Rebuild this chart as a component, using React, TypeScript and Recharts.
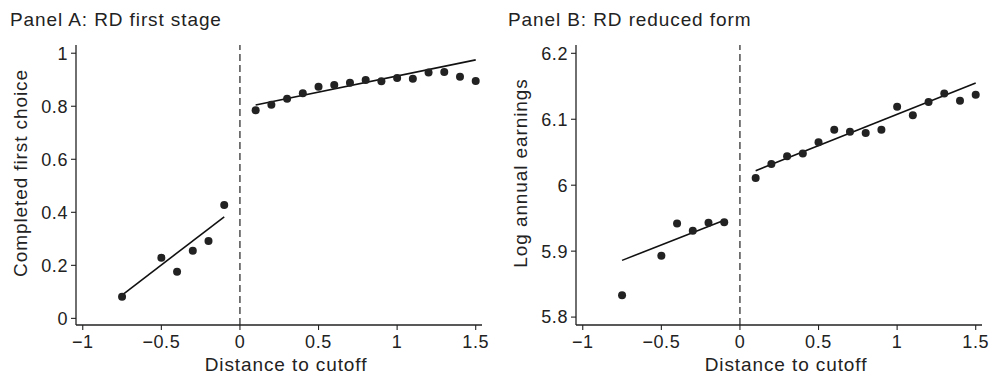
import React from "react";
import {
  ComposedChart,
  Scatter,
  Line,
  XAxis,
  YAxis,
  ReferenceLine,
  Label,
} from "recharts";

const xTicks = [-1, -0.5, 0, 0.5, 1, 1.5];
const binsLeft = [-0.75, -0.5, -0.4, -0.3, -0.2, -0.1];
const binsRight = [0.1, 0.2, 0.3, 0.4, 0.5, 0.6, 0.7, 0.8, 0.9, 1, 1.1, 1.2, 1.3, 1.4, 1.5];
const fitLeftX = [-0.75, -0.1];
const fitRightX = [0.1, 1.5];

// Panel A: first stage
const firstStageLeft = [0.082, 0.229, 0.176, 0.255, 0.292, 0.428];
const firstStageRight = [
  0.785, 0.806, 0.828, 0.849, 0.874, 0.88, 0.889, 0.899, 0.894, 0.907, 0.904, 0.927, 0.929, 0.911,
  0.895,
];
const firstStageFitLeft = [0.088, 0.383];
const firstStageFitRight = [0.805, 0.975];
const yTicksA = [0, 0.2, 0.4, 0.6, 0.8, 1];

// Panel B: reduced form
const reducedLeft = [5.833, 5.893, 5.942, 5.931, 5.943, 5.944];
const reducedRight = [
  6.011, 6.032, 6.044, 6.048, 6.065, 6.084, 6.081, 6.079, 6.084, 6.119, 6.106, 6.126, 6.139, 6.128,
  6.137,
];
const reducedFitLeft = [5.886, 5.947];
const reducedFitRight = [6.022, 6.155];
const yTicksB = [5.8, 5.9, 6, 6.1, 6.2];

const INK = "#222";
const FONT = "'Liberation Sans', Arial, Helvetica, sans-serif";

const zip = (xs: number[], ys: number[]) => xs.map((x, i) => ({ x, y: ys[i] }));
const fmt = (v: number) => String(v).replace("-", "\u2212");

const Dot = (props: any) => <circle cx={props.cx} cy={props.cy} r={4} fill={INK} />;

type PanelProps = {
  title: string;
  yLabel: string;
  left: number;
  width: number;
  marginLeft: number;
  marginRight: number;
  yDomain: [number, number];
  yTicks: number[];
  ptsLeft: number[];
  ptsRight: number[];
  fitL: number[];
  fitR: number[];
  yLabelX: number;
  titleX: number;
};

function Panel(p: PanelProps) {
  const points = [...zip(binsLeft, p.ptsLeft), ...zip(binsRight, p.ptsRight)];
  const tick = { fill: INK, fontSize: 18, fontFamily: FONT, letterSpacing: 0.6 };
  return (
    <div style={{ position: "absolute", left: p.left, top: 0, width: p.width, height: 374 }}>
      <div
        style={{
          position: "absolute",
          left: p.titleX,
          top: 10,
          fontFamily: FONT,
          fontSize: 19,
          lineHeight: "20px",
          letterSpacing: 0.9,
          color: INK,
          whiteSpace: "nowrap",
        }}
      >
        {p.title}
      </div>
      <ComposedChart
        width={p.width}
        height={374}
        margin={{ top: 45, right: p.marginRight, bottom: 9, left: p.marginLeft }}
      >
        <XAxis
          type="number"
          dataKey="x"
          domain={[-1.043, 1.54]}
          ticks={xTicks}
          interval={0}
          tickFormatter={fmt}
          tick={tick}
          tickSize={5}
          tickMargin={5}
          height={40}
          axisLine={{ stroke: INK, strokeWidth: 1.3 }}
          tickLine={{ stroke: INK, strokeWidth: 1.1 }}
        >
          <Label
            content={({ viewBox }: any) => (
              <text
                x={viewBox.x + viewBox.width / 2 + 7}
                y={viewBox.y + 46}
                textAnchor="middle"
                fill={INK}
                fontSize={19}
                fontFamily={FONT}
                letterSpacing={0.9}
              >
                Distance to cutoff
              </text>
            )}
          />
        </XAxis>
        <YAxis
          type="number"
          dataKey="y"
          domain={p.yDomain}
          ticks={p.yTicks}
          interval={0}
          tickFormatter={fmt}
          tick={tick}
          tickSize={5}
          tickMargin={3}
          width={60}
          axisLine={{ stroke: INK, strokeWidth: 1.3 }}
          tickLine={{ stroke: INK, strokeWidth: 1.1 }}
        >
          <Label
            content={({ viewBox }: any) => {
              const cy = viewBox.y + viewBox.height / 2 - 12;
              return (
                <text
                  x={p.yLabelX}
                  y={cy}
                  transform={`rotate(-90, ${p.yLabelX}, ${cy})`}
                  textAnchor="middle"
                  dominantBaseline="central"
                  fill={INK}
                  fontSize={19}
                  fontFamily={FONT}
                  letterSpacing={0.9}
                >
                  {p.yLabel}
                </text>
              );
            }}
          />
        </YAxis>
        <ReferenceLine x={0} stroke={INK} strokeWidth={1.2} strokeDasharray="7 4" />
        <Line
          data={zip(fitLeftX, p.fitL)}
          dataKey="y"
          type="linear"
          stroke="#111"
          strokeWidth={1.6}
          dot={false}
          activeDot={false}
          isAnimationActive={false}
        />
        <Line
          data={zip(fitRightX, p.fitR)}
          dataKey="y"
          type="linear"
          stroke="#111"
          strokeWidth={1.6}
          dot={false}
          activeDot={false}
          isAnimationActive={false}
        />
        <Scatter data={points} dataKey="y" shape={Dot} isAnimationActive={false} />
      </ComposedChart>
    </div>
  );
}

export default function App() {
  return (
    <div
      style={{
        position: "absolute",
        left: 0,
        top: 0,
        width: 989,
        height: 374,
        background: "#fff",
      }}
    >
      <Panel
        title="Panel A: RD first stage"
        yLabel="Completed first choice"
        left={0}
        width={495}
        marginLeft={16}
        marginRight={13}
        yDomain={[-0.025, 1.031]}
        yTicks={yTicksA}
        ptsLeft={firstStageLeft}
        ptsRight={firstStageRight}
        fitL={firstStageFitLeft}
        fitR={firstStageFitRight}
        yLabelX={20}
        titleX={10}
      />
      <Panel
        title="Panel B: RD reduced form"
        yLabel="Log annual earnings"
        left={495}
        width={494}
        marginLeft={21}
        marginRight={7}
        yDomain={[5.788, 6.2126]}
        yTicks={yTicksB}
        ptsLeft={reducedLeft}
        ptsRight={reducedRight}
        fitL={reducedFitLeft}
        fitR={reducedFitRight}
        yLabelX={25}
        titleX={13}
      />
    </div>
  );
}
